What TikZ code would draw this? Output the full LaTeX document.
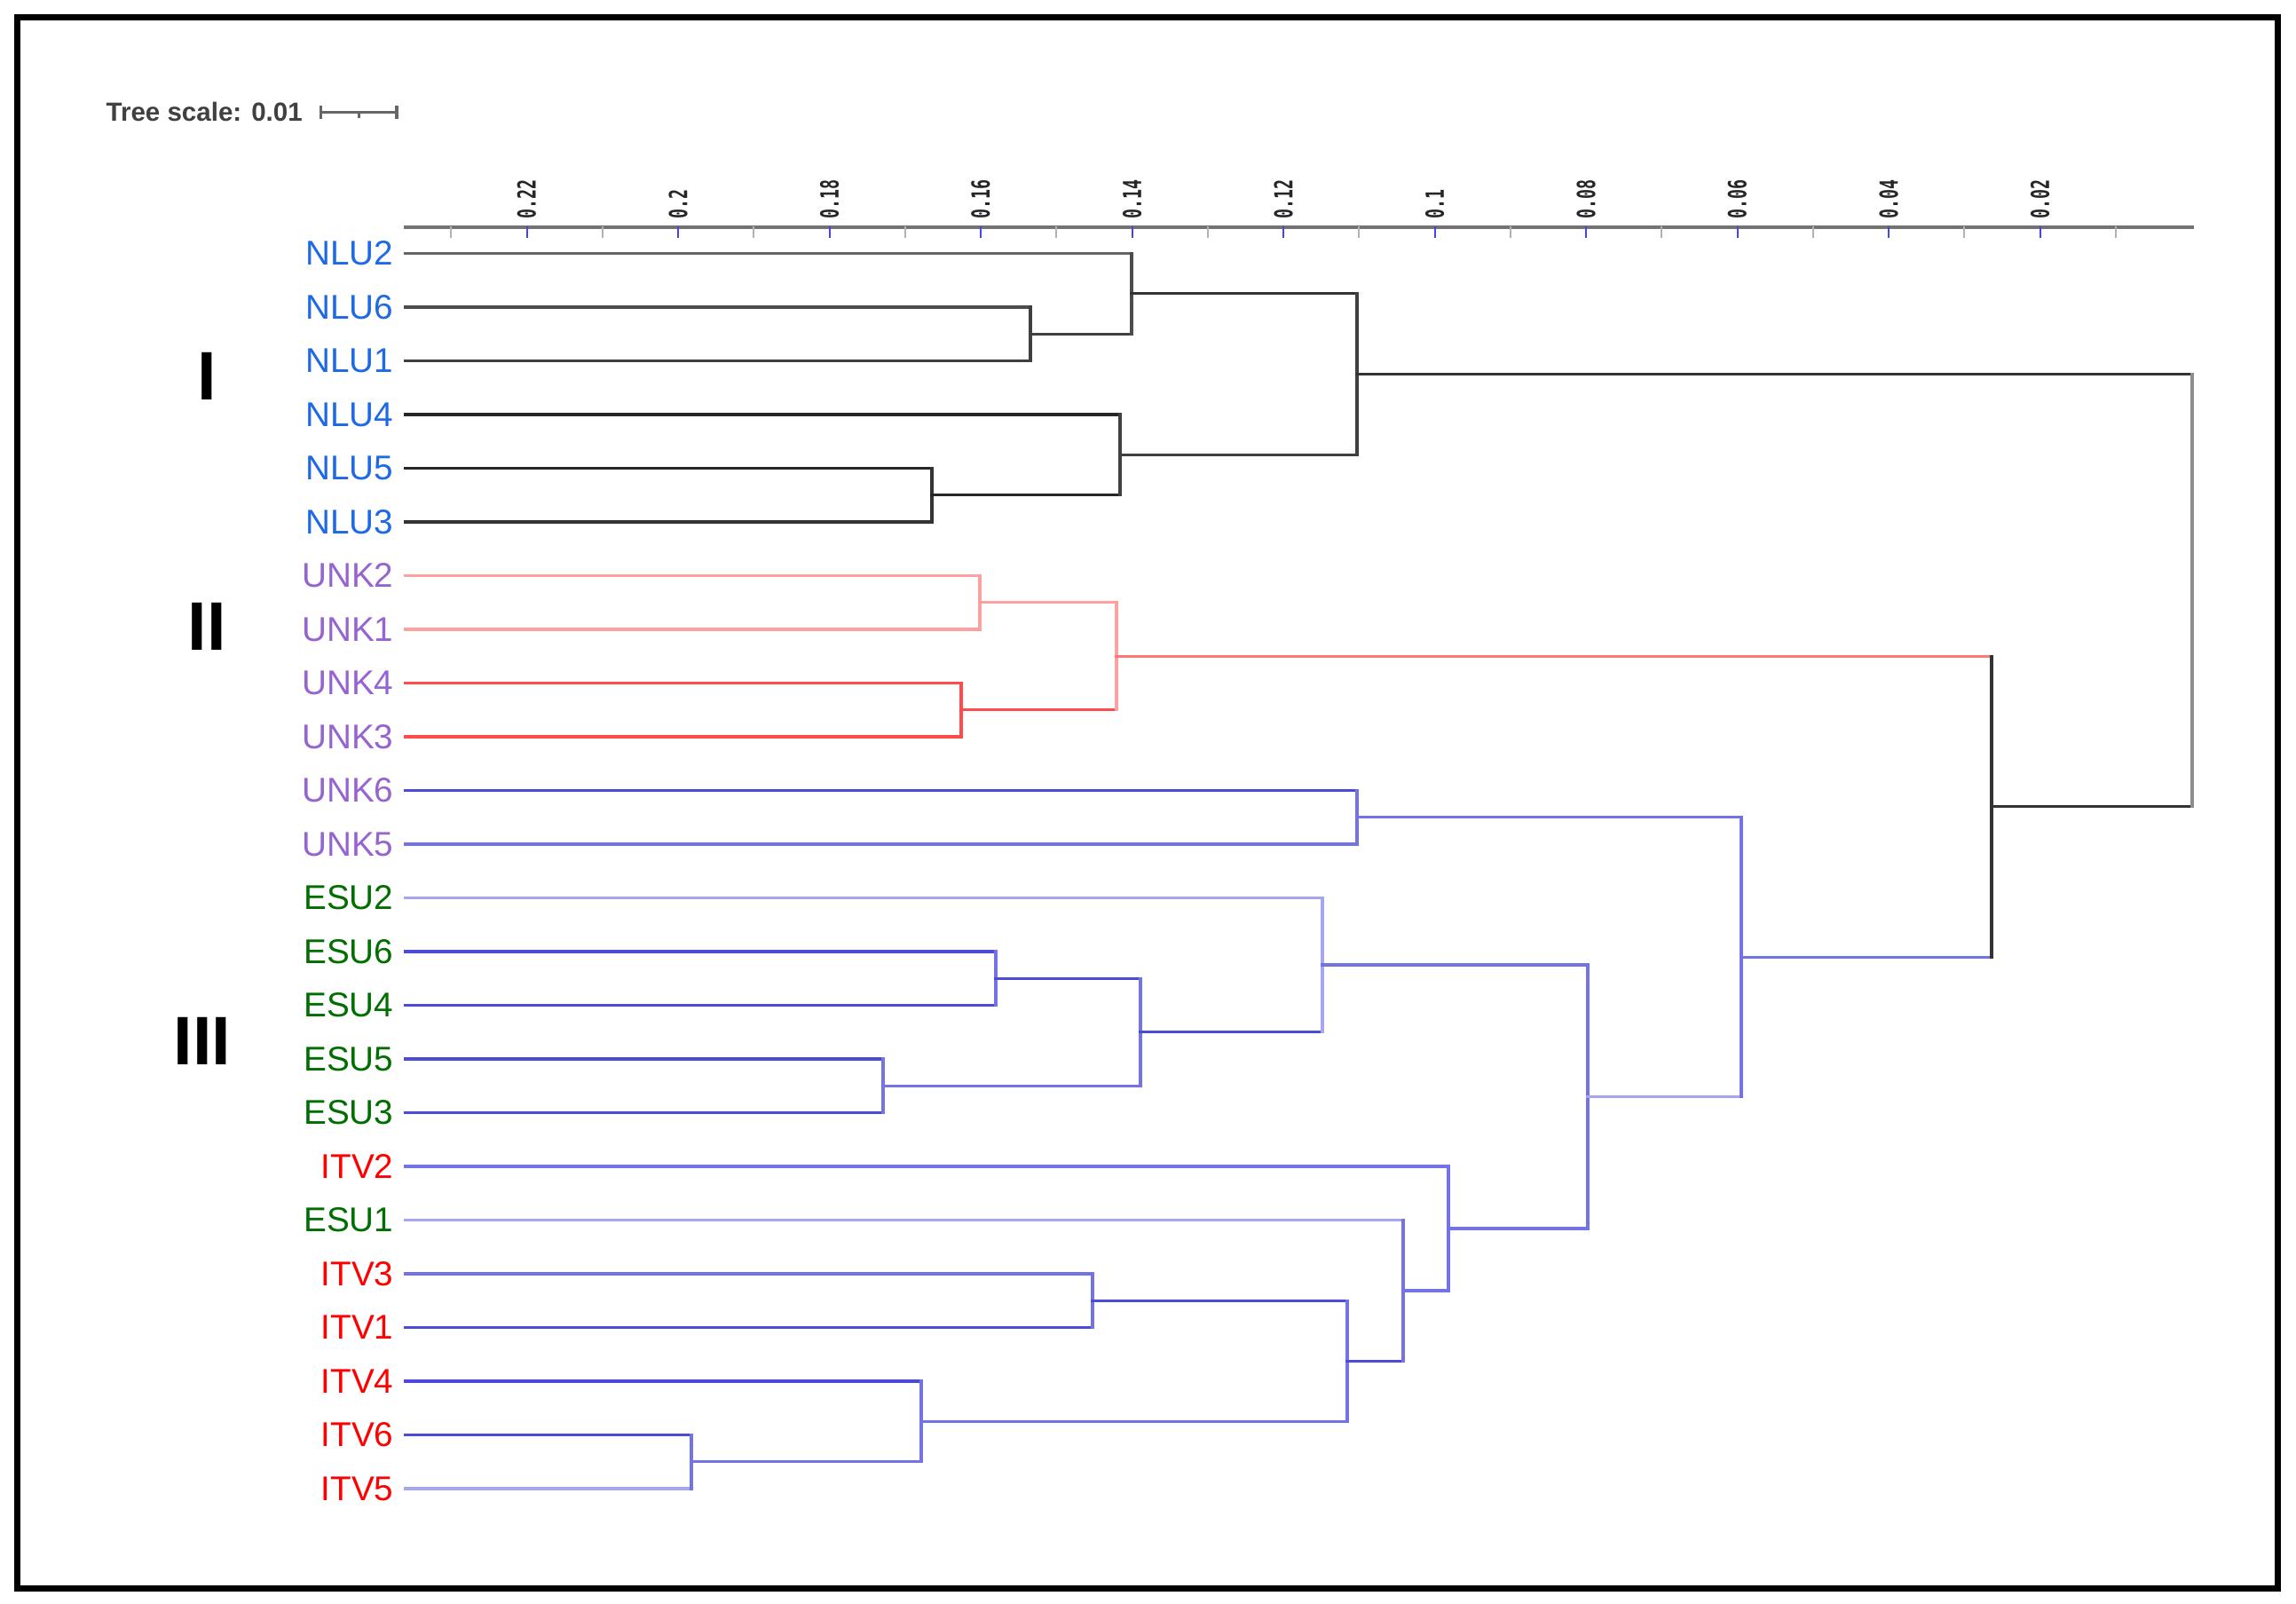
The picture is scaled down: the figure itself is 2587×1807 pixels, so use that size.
\documentclass[tikz,border=0pt]{standalone}
\usepackage{graphicx}
\usepackage{fontspec}
\setmainfont{Liberation Sans}
\newfontfamily\axisfont{DejaVu Sans Mono}
\definecolor{nlu}{RGB}{30,105,230}
\definecolor{unk}{RGB}{150,100,210}
\definecolor{esu}{RGB}{0,110,0}
\definecolor{itv}{RGB}{255,0,0}
\definecolor{redlight}{RGB}{255,160,160}
\definecolor{redmid}{RGB}{255,120,120}
\definecolor{reddark}{RGB}{255,75,75}
\definecolor{bluedark}{RGB}{75,75,215}
\definecolor{bluemid}{RGB}{115,115,230}
\definecolor{bluelight}{RGB}{165,165,242}
\definecolor{tickblue}{RGB}{70,70,230}

\begin{document}
\begin{tikzpicture}[x = 0.01cm, y = -0.01cm, line width = 0.032cm, line cap = rect,
	leaf/.style = {anchor = east, inner xsep = 0.12cm, inner ysep = 0pt, font = \fontsize{11}{13}\selectfont},
	ticklabel/.style = {rotate = 90, anchor = west, inner sep = 0pt, text = black!85, font = \axisfont\bfseries\fontsize{8}{9}\selectfont},
	clade/.style = {inner sep = 0pt, font = \bfseries\fontsize{22}{26}\selectfont}]
	\useasboundingbox (0,0) rectangle (2587,1807);
	\draw[line width = 0.07cm, line cap = butt] (19.5,19.5) rectangle (2566,1789);

	\node (scale) at (118, 126)	[anchor = west, inner sep = 0pt, text = black!75, font = \bfseries\fontsize{8.4}{10}\selectfont]	{Tree scale: 0.01};
	\draw[black!60] (361.6,126.7) -- (446.9,126.7) (361.6,120.7) -- (361.6,132.7) (446.9,120.7) -- (446.9,132.7) (404.2,126.7) -- (404.2,131.7);

	\draw[black!55, line width = 0.035cm] (457,256) -- (2470,256);
	\draw[black!30, line width = 0.02cm] (508.25,256) -- (508.25,267) (678.75,256) -- (678.75,267) (849.25,256) -- (849.25,267) (1019.75,256) -- (1019.75,267) (1190.25,256) -- (1190.25,267) (1360.75,256) -- (1360.75,267) (1531.25,256) -- (1531.25,267) (1701.75,256) -- (1701.75,267) (1872.25,256) -- (1872.25,267) (2042.75,256) -- (2042.75,267) (2213.25,256) -- (2213.25,267) (2383.75,256) -- (2383.75,267);
	\draw[tickblue, line width = 0.02cm] (593.5,256) -- (593.5,267) (764,256) -- (764,267) (934.5,256) -- (934.5,267) (1105,256) -- (1105,267) (1275.5,256) -- (1275.5,267) (1446,256) -- (1446,267) (1616.5,256) -- (1616.5,267) (1787,256) -- (1787,267) (1957.5,256) -- (1957.5,267) (2128,256) -- (2128,267) (2298.5,256) -- (2298.5,267);
	\node (t22) at ( 593.5, 248)	[ticklabel]	{\scalebox{0.65}[1]{0.22}};
	\node (t20) at ( 764,   248)	[ticklabel]	{\scalebox{0.65}[1]{0.2}};
	\node (t18) at ( 934.5, 248)	[ticklabel]	{\scalebox{0.65}[1]{0.18}};
	\node (t16) at (1105,   248)	[ticklabel]	{\scalebox{0.65}[1]{0.16}};
	\node (t14) at (1275.5, 248)	[ticklabel]	{\scalebox{0.65}[1]{0.14}};
	\node (t12) at (1446,   248)	[ticklabel]	{\scalebox{0.65}[1]{0.12}};
	\node (t10) at (1616.5, 248)	[ticklabel]	{\scalebox{0.65}[1]{0.1}};
	\node (t08) at (1787,   248)	[ticklabel]	{\scalebox{0.65}[1]{0.08}};
	\node (t06) at (1957.5, 248)	[ticklabel]	{\scalebox{0.65}[1]{0.06}};
	\node (t04) at (2128,   248)	[ticklabel]	{\scalebox{0.65}[1]{0.04}};
	\node (t02) at (2298.5, 248)	[ticklabel]	{\scalebox{0.65}[1]{0.02}};

	\node (g1) at (233,  424)	[clade]	{I};
	\node (g2) at (233,  706)	[clade]	{II};
	\node (g3) at (228, 1173)	[clade]	{III};

	\node (NLU2) at (457,  285.5)	[leaf, text = nlu]	{NLU2};
	\node (NLU6) at (457,  346)	[leaf, text = nlu]	{NLU6};
	\node (NLU1) at (457,  406.5)	[leaf, text = nlu]	{NLU1};
	\node (NLU4) at (457,  467)	[leaf, text = nlu]	{NLU4};
	\node (NLU5) at (457,  527.5)	[leaf, text = nlu]	{NLU5};
	\node (NLU3) at (457,  588)	[leaf, text = nlu]	{NLU3};
	\node (UNK2) at (457,  648.5)	[leaf, text = unk]	{UNK2};
	\node (UNK1) at (457,  709)	[leaf, text = unk]	{UNK1};
	\node (UNK4) at (457,  769.5)	[leaf, text = unk]	{UNK4};
	\node (UNK3) at (457,  830)	[leaf, text = unk]	{UNK3};
	\node (UNK6) at (457,  890.5)	[leaf, text = unk]	{UNK6};
	\node (UNK5) at (457,  951)	[leaf, text = unk]	{UNK5};
	\node (ESU2) at (457, 1011.5)	[leaf, text = esu]	{ESU2};
	\node (ESU6) at (457, 1072)	[leaf, text = esu]	{ESU6};
	\node (ESU4) at (457, 1132.5)	[leaf, text = esu]	{ESU4};
	\node (ESU5) at (457, 1193)	[leaf, text = esu]	{ESU5};
	\node (ESU3) at (457, 1253.5)	[leaf, text = esu]	{ESU3};
	\node (ITV2) at (457, 1314)	[leaf, text = itv]	{ITV2};
	\node (ESU1) at (457, 1374.5)	[leaf, text = esu]	{ESU1};
	\node (ITV3) at (457, 1435)	[leaf, text = itv]	{ITV3};
	\node (ITV1) at (457, 1495.5)	[leaf, text = itv]	{ITV1};
	\node (ITV4) at (457, 1556)	[leaf, text = itv]	{ITV4};
	\node (ITV6) at (457, 1616.5)	[leaf, text = itv]	{ITV6};
	\node (ITV5) at (457, 1677)	[leaf, text = itv]	{ITV5};

	\coordinate (N61)  at (1161,  376.25);
	\coordinate (N2)   at (1275,  330.9);
	\coordinate (N53)  at (1050,  557.75);
	\coordinate (N4)   at (1262,  512.4);
	\coordinate (NL)   at (1529,  421.6);
	\coordinate (U21)  at (1104,  678.75);
	\coordinate (U43)  at (1083,  799.75);
	\coordinate (UA)   at (1258,  739.25);
	\coordinate (U65)  at (1529,  920.75);
	\coordinate (E64)  at (1122, 1102.25);
	\coordinate (E53)  at ( 995, 1223.25);
	\coordinate (EB)   at (1285, 1162.75);
	\coordinate (EA)   at (1490, 1087.1);
	\coordinate (I31)  at (1231, 1465.25);
	\coordinate (I65)  at ( 779, 1646.75);
	\coordinate (I4)   at (1038, 1601.4);
	\coordinate (IB)   at (1518, 1533.3);
	\coordinate (IA)   at (1581, 1453.9);
	\coordinate (IT)   at (1632, 1384);
	\coordinate (BEI)  at (1789, 1235.6);
	\coordinate (BU)   at (1962, 1078.2);
	\coordinate (RB)   at (2244,  908.7);
	\coordinate (root) at (2470,  665.2);

	\draw[black!60] (NLU2) -- (NLU2 -| N2);
	\draw[black!70] (NLU6) -- (NLU6 -| N61);
	\draw[black!75] (NLU1) -- (NLU1 -| N61);
	\draw[black!85] (NLU4) -- (NLU4 -| N4);
	\draw[black!85] (NLU5) -- (NLU5 -| N53);
	\draw[black!80] (NLU3) -- (NLU3 -| N53);
	\draw[black!75] (NLU6 -| N61) -- (NLU1 -| N61) (N61) -- (N61 -| N2);
	\draw[black!70] (NLU2 -| N2) -- (N61 -| N2);
	\draw[black!80] (N2) -- (N2 -| NL);
	\draw[black!80] (NLU5 -| N53) -- (NLU3 -| N53);
	\draw[black!85] (N53) -- (N53 -| N4);
	\draw[black!75] (NLU4 -| N4) -- (N53 -| N4) (N4) -- (N4 -| NL);
	\draw[black!75] (N2 -| NL) -- (N4 -| NL);
	\draw[black!80] (NL) -- (NL -| root);

	\draw[redlight] (UNK2) -- (UNK2 -| U21);
	\draw[redlight] (UNK1) -- (UNK1 -| U21);
	\draw[redlight] (UNK2 -| U21) -- (UNK1 -| U21) (U21) -- (U21 -| UA);
	\draw[reddark] (UNK4) -- (UNK4 -| U43);
	\draw[reddark] (UNK3) -- (UNK3 -| U43);
	\draw[reddark] (UNK4 -| U43) -- (UNK3 -| U43) (U43) -- (U43 -| UA);
	\draw[redlight] (U21 -| UA) -- (U43 -| UA);
	\draw[redmid] (UA) -- (UA -| RB);

	\draw[bluedark] (UNK6) -- (UNK6 -| U65);
	\draw[bluemid] (UNK5) -- (UNK5 -| U65);
	\draw[bluemid] (UNK6 -| U65) -- (UNK5 -| U65) (U65) -- (U65 -| BU);
	\draw[bluelight] (ESU2) -- (ESU2 -| EA);
	\draw[bluedark] (ESU6) -- (ESU6 -| E64);
	\draw[bluedark] (ESU4) -- (ESU4 -| E64);
	\draw[bluemid] (ESU6 -| E64) -- (ESU4 -| E64);
	\draw[bluedark] (E64) -- (E64 -| EB);
	\draw[bluedark] (ESU5) -- (ESU5 -| E53);
	\draw[bluedark] (ESU3) -- (ESU3 -| E53);
	\draw[bluemid] (ESU5 -| E53) -- (ESU3 -| E53) (E53) -- (E53 -| EB);
	\draw[bluemid] (E64 -| EB) -- (E53 -| EB);
	\draw[bluedark] (EB) -- (EB -| EA);
	\draw[bluelight] (ESU2 -| EA) -- (EB -| EA);
	\draw[bluemid] (EA) -- (EA -| BEI);

	\draw[bluemid] (ITV2) -- (ITV2 -| IT);
	\draw[bluelight] (ESU1) -- (ESU1 -| IA);
	\draw[bluemid] (ITV3) -- (ITV3 -| I31);
	\draw[bluedark] (ITV1) -- (ITV1 -| I31);
	\draw[bluemid] (ITV3 -| I31) -- (ITV1 -| I31);
	\draw[bluedark] (I31) -- (I31 -| IB);
	\draw[bluedark] (ITV4) -- (ITV4 -| I4);
	\draw[bluedark] (ITV6) -- (ITV6 -| I65);
	\draw[bluelight] (ITV5) -- (ITV5 -| I65);
	\draw[bluemid] (ITV6 -| I65) -- (ITV5 -| I65) (I65) -- (I65 -| I4);
	\draw[bluemid] (ITV4 -| I4) -- (I65 -| I4) (I4) -- (I4 -| IB);
	\draw[bluemid] (I31 -| IB) -- (I4 -| IB);
	\draw[bluedark] (IB) -- (IB -| IA);
	\draw[bluemid] (ESU1 -| IA) -- (IB -| IA) (IA) -- (IA -| IT);
	\draw[bluemid] (ITV2 -| IT) -- (IA -| IT) (IT) -- (IT -| BEI);
	\draw[bluemid] (EA -| BEI) -- (IT -| BEI);
	\draw[bluelight] (BEI) -- (BEI -| BU);
	\draw[bluemid] (U65 -| BU) -- (BEI -| BU) (BU) -- (BU -| RB);

	\draw[black!80] (UA -| RB) -- (BU -| RB) (RB) -- (RB -| root);
	\draw[black!45] (NL -| root) -- (RB -| root);
\end{tikzpicture}
\end{document}
